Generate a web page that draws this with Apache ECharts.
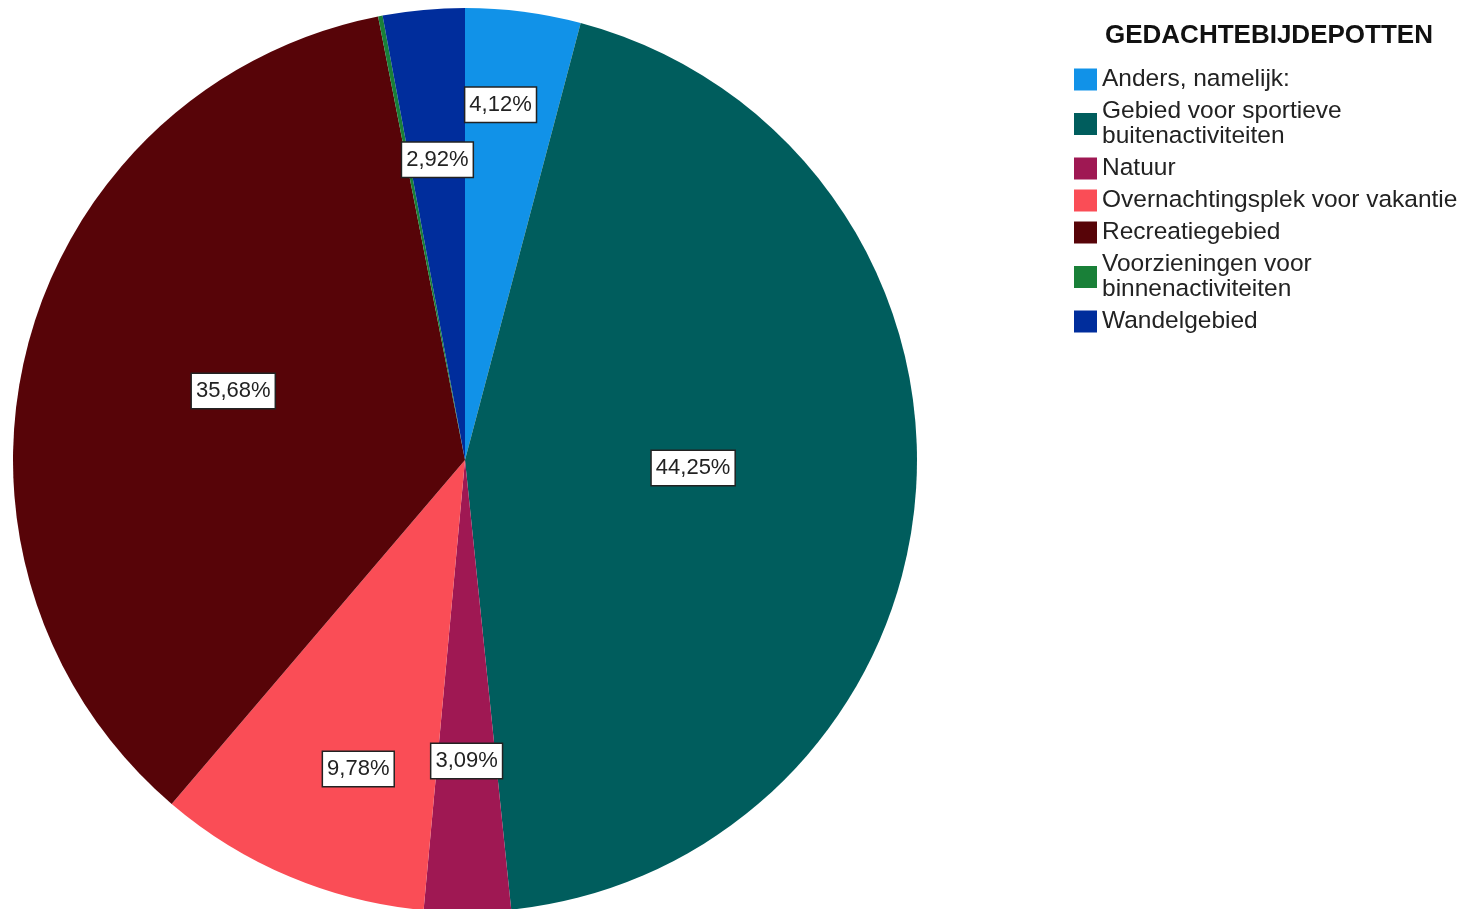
<!DOCTYPE html>
<html>
<head>
<meta charset="utf-8">
<style>html,body{margin:0;padding:0;background:#fff;}#chart{width:1467px;height:909px;}</style>
<script src="https://cdn.jsdelivr.net/npm/echarts@6/dist/echarts.min.js"></script>
</head>
<body>
<div id="chart"></div>
<script>
// Data
const categories = ['Anders, namelijk:', 'Gebied voor sportieve buitenactiviteiten', 'Natuur', 'Overnachtingsplek voor vakantie', 'Recreatiegebied', 'Voorzieningen voor binnenactiviteiten', 'Wandelgebied'];
const legendLabels = ['Anders, namelijk:', 'Gebied voor sportieve\nbuitenactiviteiten', 'Natuur', 'Overnachtingsplek voor vakantie', 'Recreatiegebied', 'Voorzieningen voor\nbinnenactiviteiten', 'Wandelgebied'];
const percentages = [4.12, 44.25, 3.09, 9.78, 35.68, 0.16, 2.92];
const legendTitle = 'GEDACHTEBIJDEPOTTEN';

// Style
const colors = ['#1192e8', '#005d5d', '#9f1853', '#fa4d56', '#570408', '#198038', '#002d9c'];
const labelRadiusFrac = [0.79, 0.505, 0.666, 0.723, 0.535, 0.6, 0.667];
const labelAngleShiftDeg = [-1.7, -2.5, 0, -3.8, 1.9, 0, 0];
const showLabel = [true, true, true, true, true, false, true];
const CX = 465, CY = 460, R = 452;
const FONT = '"Liberation Sans", Arial, sans-serif';

const total = percentages.reduce((a, b) => a + b, 0);
const cum = [];
percentages.reduce((acc, v, i) => { cum[i] = acc; return acc + v; }, 0);

const chart = echarts.init(document.getElementById('chart'));
chart.setOption({
  animation: false,
  title: {
    text: legendTitle,
    left: 1105, top: 23,
    padding: 0,
    textStyle: { fontFamily: FONT, fontSize: 26, fontWeight: 'bold', color: '#111' }
  },
  legend: {
    orient: 'vertical',
    left: 1074, top: 67,
    itemWidth: 23, itemHeight: 22,
    itemGap: 7,
    icon: 'rect',
    padding: 0,
    formatter: function (name) { return legendLabels[categories.indexOf(name)]; },
    textStyle: { fontFamily: FONT, fontSize: 24.5, lineHeight: 25, color: '#222' },
    data: categories
  },
  series: [{
    type: 'pie',
    center: [CX, CY],
    radius: R,
    startAngle: 90,
    clockwise: true,
    avoidLabelOverlap: false,
    itemStyle: { borderWidth: 0 },
    label: {
      position: 'inside',
      fontFamily: FONT, fontSize: 22, color: '#222',
      backgroundColor: '#fff', borderColor: '#222', borderWidth: 1.5,
      padding: [7, 4, 5, 4],
      formatter: function (p) { return percentages[p.dataIndex].toFixed(2).replace('.', ',') + '%'; }
    },
    labelLine: { show: false },
    labelLayout: function (params) {
      const i = params.dataIndex;
      const mid = (cum[i] + percentages[i] / 2) / total * 2 * Math.PI + labelAngleShiftDeg[i] * Math.PI / 180;
      const r = labelRadiusFrac[i] * R;
      return { x: CX + r * Math.sin(mid), y: CY - r * Math.cos(mid), align: 'center', verticalAlign: 'middle' };
    },
    data: categories.map((c, i) => ({
      name: c, value: percentages[i],
      itemStyle: { color: colors[i] },
      label: { show: showLabel[i] }
    }))
  }]
});
</script>
</body>
</html>
